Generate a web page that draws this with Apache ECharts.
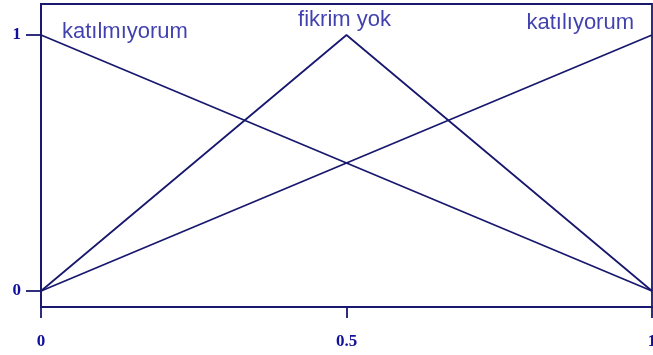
<!DOCTYPE html>
<html>
<head>
<meta charset="utf-8">
<script src="https://cdn.jsdelivr.net/npm/echarts@6/dist/echarts.min.js"></script>
<style>
  html, body { margin: 0; padding: 0; background: #fff; }
  #chart { width: 653px; height: 355px; }
</style>
</head>
<body>
<div id="chart"></div>
<script>
// membership values at x = 0, 0.5, 1
const xValues = [0, 0.5, 1];
const seriesNames = ['katılmıyorum', 'fikrim yok', 'katılıyorum'];
const katilmiyorum = [1, 0.5, 0];
const fikrimYok = [0, 1, 0];
const katiliyorum = [0, 0.5, 1];
const xTicks = [0, 0.5, 1];
const yTicks = [0, 1];
// where each name is written (x, y in data units)
const labelAnchors = [[0, 1], [0.5, 1], [1, 1]];

const lineColor = '#18186f';
const textColor = '#10109a';

const chart = echarts.init(document.getElementById('chart'));

const toPoints = (vals) => vals.map((v, i) => [xValues[i], v]);

const lineSeries = [katilmiyorum, fikrimYok, katiliyorum].map((vals, i) => ({
    name: seriesNames[i],
    type: 'line',
    data: toPoints(vals),
    showSymbol: false,
    symbol: 'none',
    silent: true,
    lineStyle: { color: lineColor, width: 1.8 },
}));

const labelStyles = [
    { position: 'right', distance: 21, offset: [0, -3] },
    { position: 'top', distance: 4, offset: [-2, 0] },
    { position: 'left', distance: 18, offset: [0, -12] },
];

const option = {
    animation: false,
    grid: {
        left: 41, right: 1, top: 4, bottom: 48,
        outerBoundsMode: 'none',
        containLabel: false,
        show: true,
        borderColor: lineColor,
        borderWidth: 1.8,
    },
    xAxis: {
        type: 'value',
        min: 0,
        max: 1,
        interval: 0.5,
        splitLine: { show: false },
        axisLine: { show: true, onZero: false, lineStyle: { color: lineColor, width: 1.8 } },
        axisTick: { show: true, inside: false, length: 11, customValues: xTicks, lineStyle: { color: lineColor, width: 1.8 } },
        axisLabel: {
            customValues: xTicks,
            margin: 26,
            color: textColor,
            fontFamily: 'Liberation Serif',
            fontWeight: 'bold',
            fontSize: 17,
            formatter: (v) => String(v),
        },
    },
    yAxis: {
        type: 'value',
        min: -0.0625,
        max: 1.121,
        splitLine: { show: false },
        axisLine: { show: true, onZero: false, lineStyle: { color: lineColor, width: 1.8 } },
        axisTick: { show: true, inside: false, length: 15, customValues: yTicks, lineStyle: { color: lineColor, width: 1.8 } },
        axisLabel: {
            customValues: yTicks,
            margin: 20,
            color: textColor,
            fontFamily: 'Liberation Serif',
            fontWeight: 'bold',
            fontSize: 17,
            formatter: (v) => String(v),
        },
    },
    series: [
        ...lineSeries,
        {
            name: 'labels',
            type: 'scatter',
            symbolSize: 0,
            silent: true,
            data: labelAnchors.map((p, i) => ({
                value: p,
                name: seriesNames[i],
                label: labelStyles[i],
            })),
            label: {
                show: true,
                formatter: '{b}',
                color: textColor,
                fontFamily: 'Liberation Sans',
                fontSize: 22,
            },
        },
    ],
};

chart.setOption(option);
window.addEventListener('resize', () => chart.resize());
</script>
</body>
</html>
